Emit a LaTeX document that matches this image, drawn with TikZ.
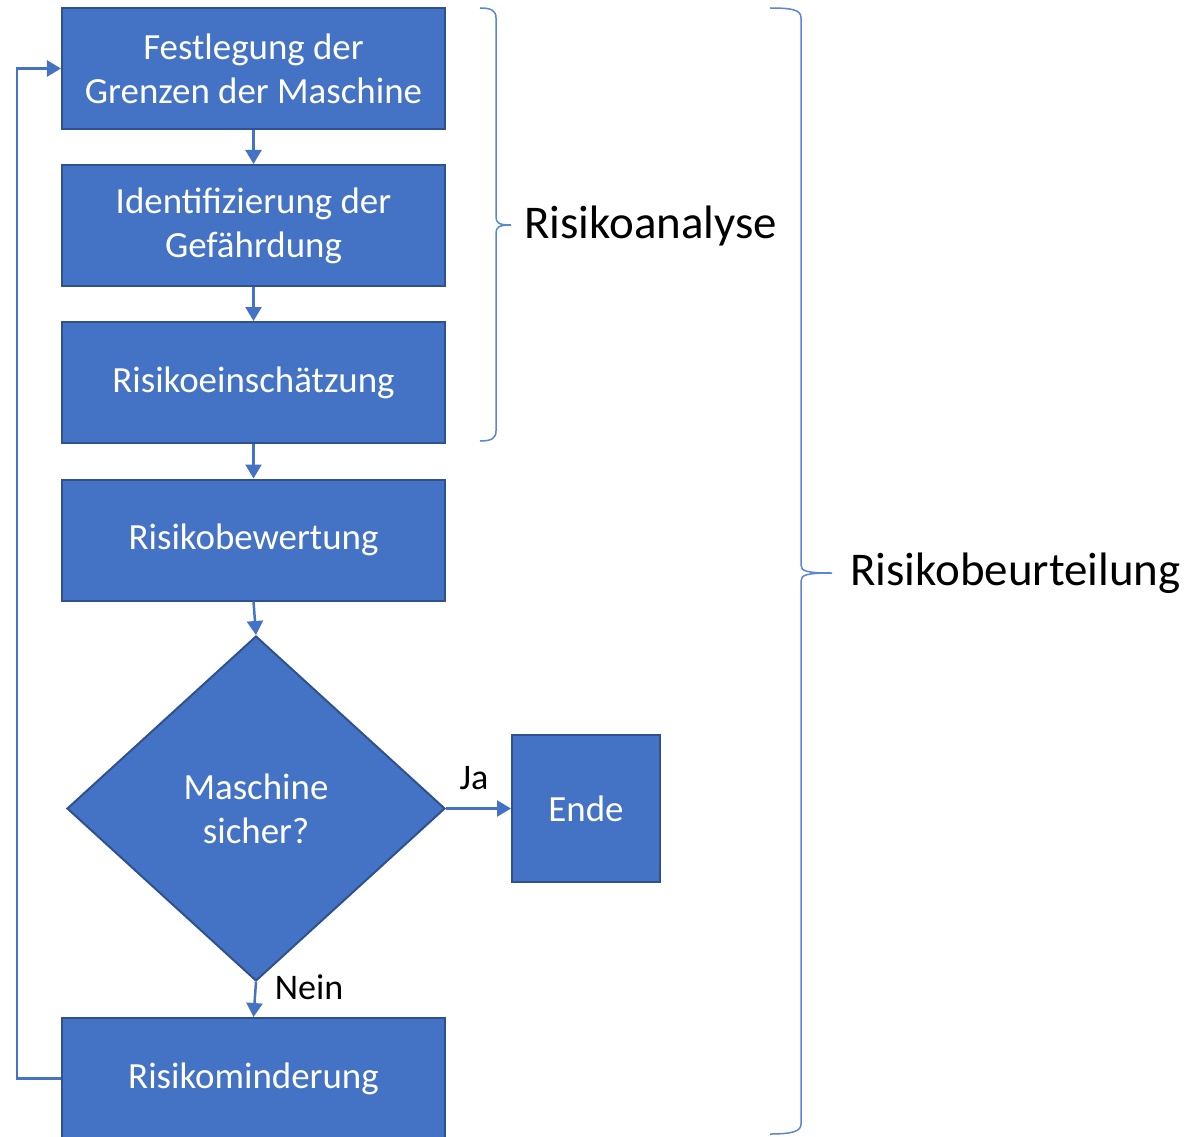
\documentclass[tikz,border=0pt]{standalone}
\usepackage{fontspec}
\setmainfont{Carlito}
\usetikzlibrary{shapes.geometric,arrows.meta}

\definecolor{boxblue}{HTML}{4472C4}
\definecolor{boxline}{HTML}{2F528F}
\definecolor{bracketblue}{HTML}{5B86D0}

\tikzstyle{process} = [rectangle, draw=boxline, fill=boxblue, line width=0.4mm, text=white, minimum width=76.6mm, minimum height=24.2mm, inner sep=0pt, align=center, font=\fontsize{21}{25}\selectfont]
\tikzstyle{decision} = [diamond, draw=boxline, fill=boxblue, line width=0.4mm, text=white, minimum width=75.6mm, minimum height=69mm, aspect=1.1, inner sep=0pt, align=center, font=\fontsize{21}{25}\selectfont]
\tikzstyle{flow} = [draw=boxblue, line width=0.5mm, -{Triangle[width=3.2mm,length=2.8mm]}]
\tikzstyle{bracket} = [draw=bracketblue, line width=0.3mm]
\tikzstyle{side} = [anchor=west, inner sep=0pt, font=\fontsize{26.7}{32}\selectfont]
\tikzstyle{answer} = [inner sep=0pt, font=\fontsize{20.5}{25}\selectfont]

\begin{document}
\begin{tikzpicture}[x=0.2mm, y=-0.2mm]
\useasboundingbox (0,0) rectangle (1194,1136);

\node[process] (grenzen) at (253.5,68.5) {Festlegung der\\Grenzen der Maschine};
\node[process] (gefahr) at (253.5,225.5) {Identifizierung der\\Gefährdung};
\node[process] (einschaetzung) at (253.5,382.5) {Risikoeinschätzung};
\node[process] (bewertung) at (253.5,540) {Risikobewertung};
\node[decision] (sicher) at (256,808.5) {Maschine\\sicher?};
\node[process, minimum width=29.6mm, minimum height=29.4mm] (ende) at (586,808.5) {Ende};
\node[process] (minderung) at (253.5,1078.5) {Risikominderung};

\draw[flow] (grenzen) -- (gefahr);
\draw[flow] (gefahr) -- (einschaetzung);
\draw[flow] (einschaetzung) -- (bewertung);
\draw[flow] (bewertung.south) -- (sicher.north);
\draw[flow] (sicher.east) -- (ende.west);
\draw[flow] (sicher.south) -- (minderung.north);
\draw[flow] (minderung.west) -- ++(-44,0) |- (grenzen.west);

\node[answer] (ja) at (474,778) {Ja};
\node[answer] (nein) at (309,987) {Nein};

\coordinate (analyse top) at (480,8);
\coordinate (analyse tip) at (511,225);
\coordinate (analyse bottom) at (480,441);
\coordinate (beurteilung top) at (770,8);
\coordinate (beurteilung tip) at (832,573);
\coordinate (beurteilung bottom) at (770,1134);

\draw[bracket] (analyse top) .. controls (492,8) and (496,11) .. (496,18) -- (496,217)
  .. controls (496,223) and (499,225) .. (analyse tip)
  .. controls (499,225) and (496,227) .. (496,233) -- (496,431)
  .. controls (496,438) and (492,441) .. (analyse bottom);
\draw[bracket] (beurteilung top) .. controls (793,8) and (801,10) .. (801,18) -- (801,565)
  .. controls (801,571) and (806,573) .. (beurteilung tip)
  .. controls (806,573) and (801,575) .. (801,581) -- (801,1124)
  .. controls (801,1131) and (793,1134) .. (beurteilung bottom);

\node[side] (analyse) at (524,226) {Risikoanalyse};
\node[side] (beurteilung) at (850,573) {Risikobeurteilung};
\end{tikzpicture}
\end{document}
